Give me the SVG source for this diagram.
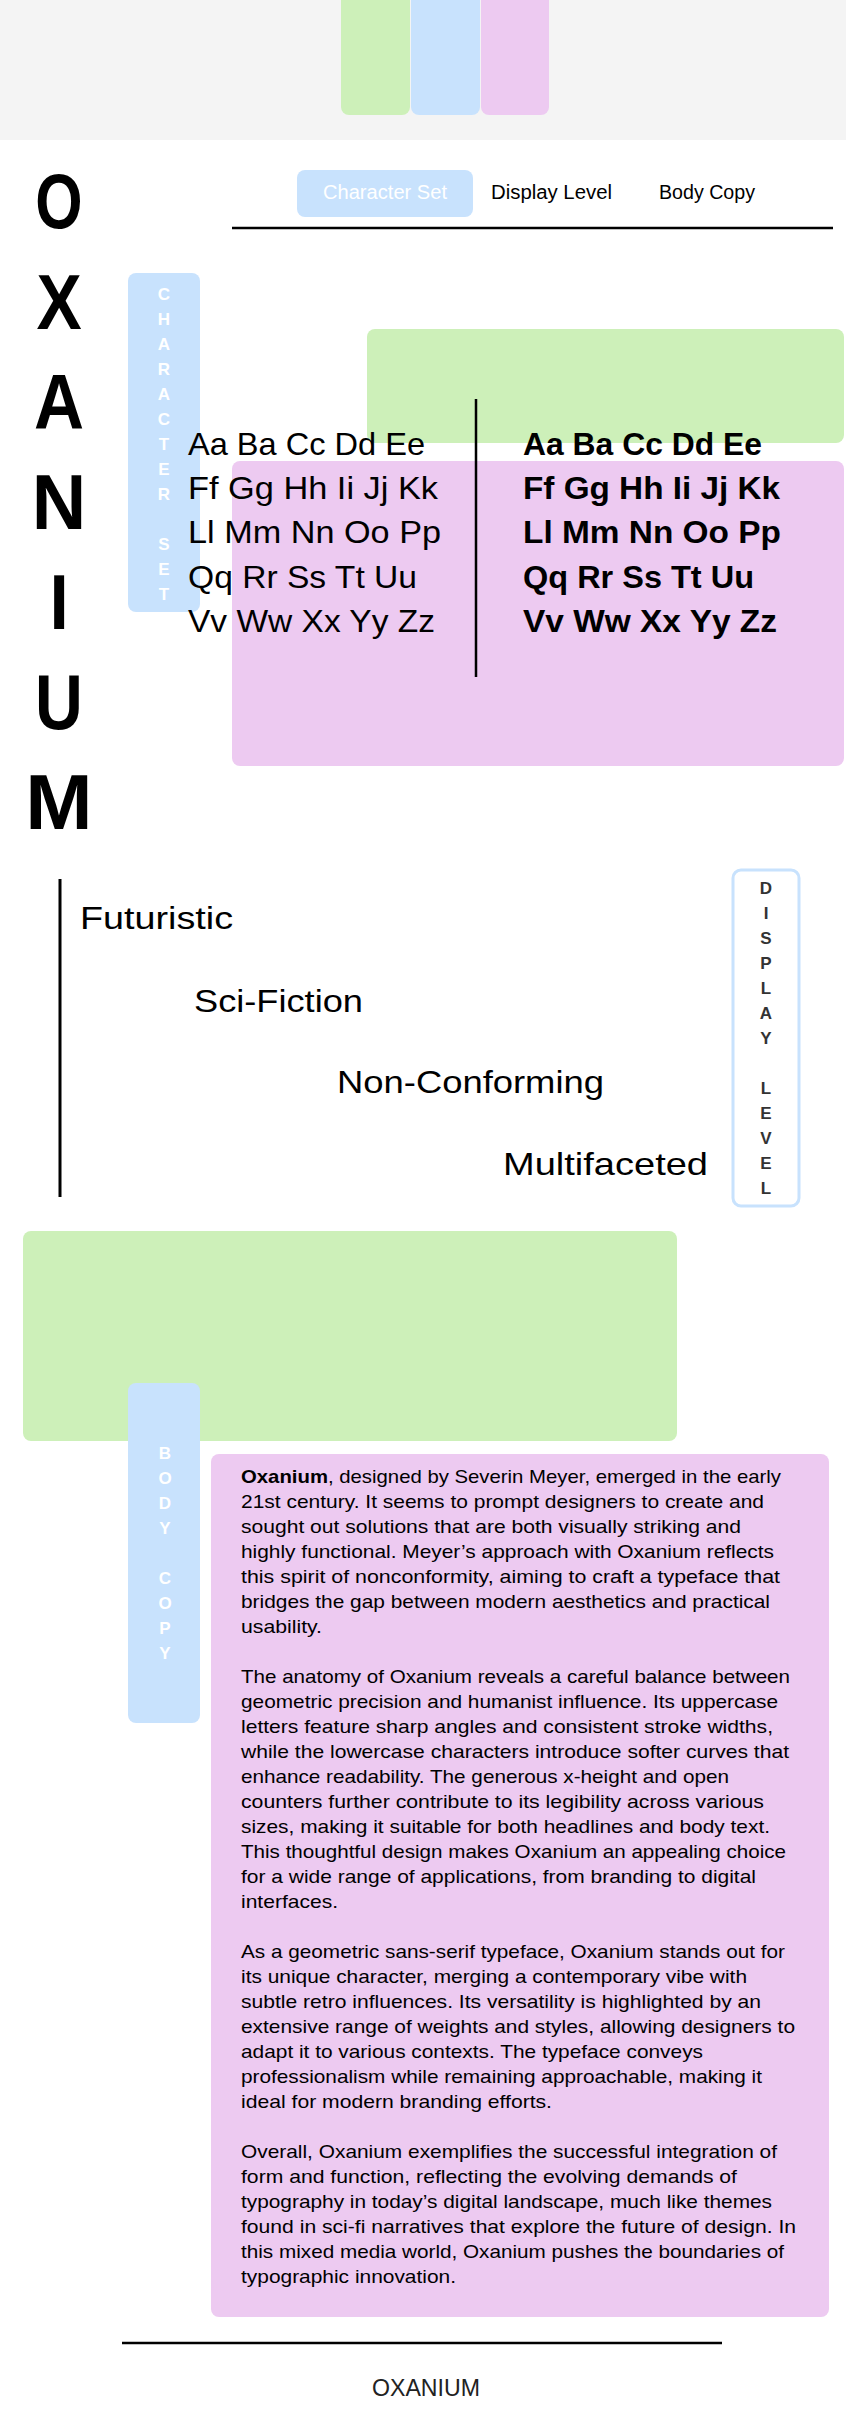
<svg xmlns="http://www.w3.org/2000/svg" width="846" height="2415" viewBox="0 0 846 2415">
<style>
text{font-family:"Liberation Sans",Arial,sans-serif;fill:#000}
.big{font-size:77px;font-weight:bold;text-anchor:middle}
.nav{font-size:20px}
.cs{font-size:32px}
.csb{font-size:32px;font-weight:bold}
.dl{font-size:32px}
.tab{font-size:17px;font-weight:bold;text-anchor:middle;fill:#fff}
.tabd{font-size:17px;font-weight:bold;text-anchor:middle;fill:#333}
.body{font-size:18.5px}
.green{fill:#cdf0b9}
.blue{fill:#c8e2fd}
.pink{fill:#edcaf1}
.rule{stroke:#000;stroke-width:2.5}
</style>
<rect width="846" height="2415" fill="#fff"/>
<g id="header">
<rect x="0" y="0" width="846" height="140" fill="#f4f4f4"/>
<rect class="green" x="341" y="-8" width="69" height="123" rx="8"/>
<rect class="blue" x="411" y="-8" width="69" height="123" rx="8"/>
<rect class="pink" x="481" y="-8" width="68" height="123" rx="8"/>
</g>
<g id="title">
<text class="big" x="0" y="228" transform="translate(59 0) scale(0.79 1)">O</text>
<text class="big" x="0" y="329" transform="translate(59 0) scale(0.88 1)">X</text>
<text class="big" x="0" y="429" transform="translate(59 0) scale(0.9 1)">A</text>
<text class="big" x="0" y="529" transform="translate(59 0) scale(0.98 1)">N</text>
<text class="big" x="0" y="629" transform="translate(59 0) scale(0.9 1)">I</text>
<text class="big" x="0" y="729" transform="translate(59 0) scale(0.86 1)">U</text>
<text class="big" x="0" y="829" transform="translate(59 0) scale(1.05 1)">M</text>
</g>
<g id="nav">
<rect class="blue" x="297" y="170" width="176" height="47" rx="8"/>
<text class="nav" x="323" y="199" textLength="124" lengthAdjust="spacingAndGlyphs" style="fill:#fff">Character Set</text>
<text class="nav" x="491" y="199" textLength="121" lengthAdjust="spacingAndGlyphs">Display Level</text>
<text class="nav" x="659" y="199" textLength="96" lengthAdjust="spacingAndGlyphs">Body Copy</text>
<line class="rule" x1="232" y1="228" x2="833" y2="228"/>
</g>
<g id="character-set">
<rect class="green" x="367" y="329" width="477" height="114" rx="8"/>
<rect class="pink" x="232" y="461" width="612" height="305" rx="8"/>
<rect class="blue" x="128" y="273" width="72" height="339" rx="8"/>
<text class="tab" x="164" y="299.5">C</text>
<text class="tab" x="164" y="324.5">H</text>
<text class="tab" x="164" y="349.5">A</text>
<text class="tab" x="164" y="374.5">R</text>
<text class="tab" x="164" y="399.5">A</text>
<text class="tab" x="164" y="424.5">C</text>
<text class="tab" x="164" y="449.5">T</text>
<text class="tab" x="164" y="474.5">E</text>
<text class="tab" x="164" y="499.5">R</text>
<text class="tab" x="164" y="549.5">S</text>
<text class="tab" x="164" y="574.5">E</text>
<text class="tab" x="164" y="599.5">T</text>
<line x1="476" y1="399" x2="476" y2="677" stroke="#000" stroke-width="2.5"/>
<text class="cs" x="188" y="455" textLength="237" lengthAdjust="spacingAndGlyphs">Aa Ba Cc Dd Ee</text>
<text class="cs" x="188" y="499" textLength="250" lengthAdjust="spacingAndGlyphs">Ff Gg Hh Ii Jj Kk</text>
<text class="cs" x="188" y="543" textLength="253" lengthAdjust="spacingAndGlyphs">Ll Mm Nn Oo Pp</text>
<text class="cs" x="188" y="588" textLength="229" lengthAdjust="spacingAndGlyphs">Qq Rr Ss Tt Uu</text>
<text class="cs" x="188" y="632" textLength="247" lengthAdjust="spacingAndGlyphs">Vv Ww Xx Yy Zz</text>
<text class="csb" x="523" y="455" textLength="239" lengthAdjust="spacingAndGlyphs">Aa Ba Cc Dd Ee</text>
<text class="csb" x="523" y="499" textLength="257" lengthAdjust="spacingAndGlyphs">Ff Gg Hh Ii Jj Kk</text>
<text class="csb" x="523" y="543" textLength="258" lengthAdjust="spacingAndGlyphs">Ll Mm Nn Oo Pp</text>
<text class="csb" x="523" y="588" textLength="231" lengthAdjust="spacingAndGlyphs">Qq Rr Ss Tt Uu</text>
<text class="csb" x="523" y="632" textLength="254" lengthAdjust="spacingAndGlyphs">Vv Ww Xx Yy Zz</text>
</g>
<g id="display-level">
<line x1="60" y1="879" x2="60" y2="1197" stroke="#000" stroke-width="3"/>
<text class="dl" x="80" y="929" textLength="153" lengthAdjust="spacingAndGlyphs">Futuristic</text>
<text class="dl" x="194" y="1012" textLength="169" lengthAdjust="spacingAndGlyphs">Sci-Fiction</text>
<text class="dl" x="337" y="1093" textLength="267" lengthAdjust="spacingAndGlyphs">Non-Conforming</text>
<text class="dl" x="503" y="1175" textLength="205" lengthAdjust="spacingAndGlyphs">Multifaceted</text>
<rect x="733" y="870" width="66" height="336" rx="8" fill="#fff" stroke="#c8e2fd" stroke-width="3"/>
<text class="tabd" x="766" y="893.5">D</text>
<text class="tabd" x="766" y="918.5">I</text>
<text class="tabd" x="766" y="943.5">S</text>
<text class="tabd" x="766" y="968.5">P</text>
<text class="tabd" x="766" y="993.5">L</text>
<text class="tabd" x="766" y="1018.5">A</text>
<text class="tabd" x="766" y="1043.5">Y</text>
<text class="tabd" x="766" y="1093.5">L</text>
<text class="tabd" x="766" y="1118.5">E</text>
<text class="tabd" x="766" y="1143.5">V</text>
<text class="tabd" x="766" y="1168.5">E</text>
<text class="tabd" x="766" y="1193.5">L</text>
</g>
<g id="body-copy">
<rect class="green" x="23" y="1231" width="654" height="210" rx="8"/>
<rect class="blue" x="128" y="1383" width="72" height="340" rx="8"/>
<text class="tab" x="165" y="1458.5">B</text>
<text class="tab" x="165" y="1483.5">O</text>
<text class="tab" x="165" y="1508.5">D</text>
<text class="tab" x="165" y="1533.5">Y</text>
<text class="tab" x="165" y="1583.5">C</text>
<text class="tab" x="165" y="1608.5">O</text>
<text class="tab" x="165" y="1633.5">P</text>
<text class="tab" x="165" y="1658.5">Y</text>
<rect class="pink" x="211" y="1454" width="618" height="863" rx="8"/>
<text class="body" x="241" y="1483" textLength="540" lengthAdjust="spacingAndGlyphs"><tspan font-weight="bold">Oxanium</tspan>, designed by Severin Meyer, emerged in the early</text>
<text class="body" x="241" y="1508" textLength="523" lengthAdjust="spacingAndGlyphs">21st century. It seems to prompt designers to create and</text>
<text class="body" x="241" y="1533" textLength="500" lengthAdjust="spacingAndGlyphs">sought out solutions that are both visually striking and</text>
<text class="body" x="241" y="1558" textLength="533" lengthAdjust="spacingAndGlyphs">highly functional. Meyer’s approach with Oxanium reflects</text>
<text class="body" x="241" y="1583" textLength="539" lengthAdjust="spacingAndGlyphs">this spirit of nonconformity, aiming to craft a typeface that</text>
<text class="body" x="241" y="1608" textLength="529" lengthAdjust="spacingAndGlyphs">bridges the gap between modern aesthetics and practical</text>
<text class="body" x="241" y="1633" textLength="81" lengthAdjust="spacingAndGlyphs">usability.</text>
<text class="body" x="241" y="1683" textLength="549" lengthAdjust="spacingAndGlyphs">The anatomy of Oxanium reveals a careful balance between</text>
<text class="body" x="241" y="1708" textLength="537" lengthAdjust="spacingAndGlyphs">geometric precision and humanist influence. Its uppercase</text>
<text class="body" x="241" y="1733" textLength="532" lengthAdjust="spacingAndGlyphs">letters feature sharp angles and consistent stroke widths,</text>
<text class="body" x="241" y="1758" textLength="548" lengthAdjust="spacingAndGlyphs">while the lowercase characters introduce softer curves that</text>
<text class="body" x="241" y="1783" textLength="488" lengthAdjust="spacingAndGlyphs">enhance readability. The generous x-height and open</text>
<text class="body" x="241" y="1808" textLength="523" lengthAdjust="spacingAndGlyphs">counters further contribute to its legibility across various</text>
<text class="body" x="241" y="1833" textLength="529" lengthAdjust="spacingAndGlyphs">sizes, making it suitable for both headlines and body text.</text>
<text class="body" x="241" y="1858" textLength="545" lengthAdjust="spacingAndGlyphs">This thoughtful design makes Oxanium an appealing choice</text>
<text class="body" x="241" y="1883" textLength="515" lengthAdjust="spacingAndGlyphs">for a wide range of applications, from branding to digital</text>
<text class="body" x="241" y="1908" textLength="97" lengthAdjust="spacingAndGlyphs">interfaces.</text>
<text class="body" x="241" y="1958" textLength="544" lengthAdjust="spacingAndGlyphs">As a geometric sans-serif typeface, Oxanium stands out for</text>
<text class="body" x="241" y="1983" textLength="506" lengthAdjust="spacingAndGlyphs">its unique character, merging a contemporary vibe with</text>
<text class="body" x="241" y="2008" textLength="520" lengthAdjust="spacingAndGlyphs">subtle retro influences. Its versatility is highlighted by an</text>
<text class="body" x="241" y="2033" textLength="554" lengthAdjust="spacingAndGlyphs">extensive range of weights and styles, allowing designers to</text>
<text class="body" x="241" y="2058" textLength="462" lengthAdjust="spacingAndGlyphs">adapt it to various contexts. The typeface conveys</text>
<text class="body" x="241" y="2083" textLength="521" lengthAdjust="spacingAndGlyphs">professionalism while remaining approachable, making it</text>
<text class="body" x="241" y="2108" textLength="311" lengthAdjust="spacingAndGlyphs">ideal for modern branding efforts.</text>
<text class="body" x="241" y="2158" textLength="536" lengthAdjust="spacingAndGlyphs">Overall, Oxanium exemplifies the successful integration of</text>
<text class="body" x="241" y="2183" textLength="496" lengthAdjust="spacingAndGlyphs">form and function, reflecting the evolving demands of</text>
<text class="body" x="241" y="2208" textLength="531" lengthAdjust="spacingAndGlyphs">typography in today’s digital landscape, much like themes</text>
<text class="body" x="241" y="2233" textLength="555" lengthAdjust="spacingAndGlyphs">found in sci-fi narratives that explore the future of design. In</text>
<text class="body" x="241" y="2258" textLength="543" lengthAdjust="spacingAndGlyphs">this mixed media world, Oxanium pushes the boundaries of</text>
<text class="body" x="241" y="2283" textLength="215" lengthAdjust="spacingAndGlyphs">typographic innovation.</text>
</g>
<g id="footer">
<line class="rule" x1="122" y1="2343" x2="722" y2="2343"/>
<text x="372" y="2396" font-size="24" textLength="108" lengthAdjust="spacingAndGlyphs" style="fill:#222">OXANIUM</text>
</g>
</svg>
